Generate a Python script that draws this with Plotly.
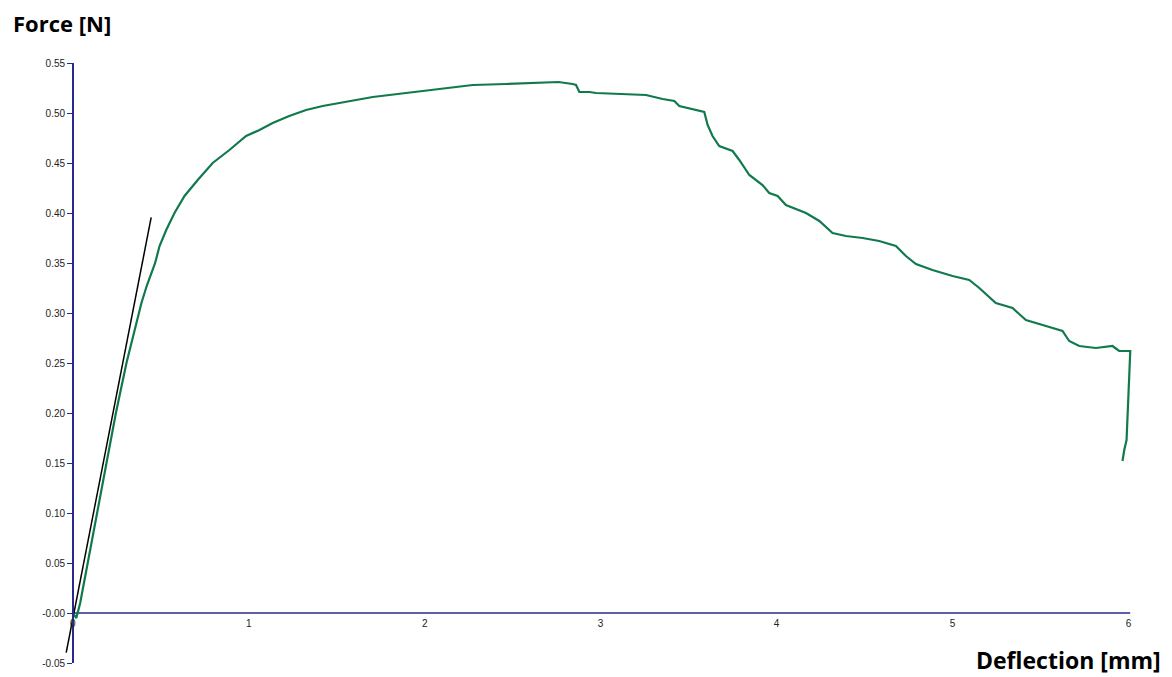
import plotly.graph_objects as go

# Force-deflection curve
deflection_mm = [0.000, 0.020, 0.042, 0.085, 0.136, 0.190, 0.245, 0.305, 0.360, 0.390,
                 0.420, 0.468, 0.493, 0.531, 0.578, 0.635, 0.710, 0.795, 0.890, 0.985,
                 1.061, 1.136, 1.230, 1.326, 1.420, 1.515, 1.610, 1.705, 1.894, 2.084,
                 2.273, 2.462, 2.652, 2.760, 2.841, 2.860, 2.879, 2.936, 2.974, 3.163,
                 3.258, 3.352, 3.419, 3.447, 3.542, 3.589, 3.608, 3.636, 3.674, 3.750,
                 3.788, 3.845, 3.920, 3.958, 4.006, 4.053, 4.167, 4.243, 4.318, 4.394,
                 4.489, 4.583, 4.678, 4.735, 4.792, 4.886, 5.000, 5.095, 5.152, 5.246,
                 5.341, 5.417, 5.531, 5.625, 5.663, 5.720, 5.815, 5.909, 5.947, 6.010,
                 6.005, 6.000, 5.989, 5.976, 5.966]
force_N = [0.000, -0.005, 0.010, 0.050, 0.100, 0.150, 0.200, 0.250, 0.290, 0.310,
           0.327, 0.350, 0.367, 0.383, 0.400, 0.417, 0.433, 0.450, 0.463, 0.477,
           0.483, 0.490, 0.497, 0.503, 0.507, 0.510, 0.513, 0.516, 0.520, 0.524,
           0.528, 0.529, 0.530, 0.531, 0.529, 0.528, 0.521, 0.521, 0.520, 0.519,
           0.518, 0.514, 0.512, 0.507, 0.503, 0.501, 0.488, 0.477, 0.467, 0.462,
           0.453, 0.438, 0.428, 0.420, 0.417, 0.408, 0.400, 0.392, 0.380, 0.377,
           0.375, 0.372, 0.367, 0.357, 0.349, 0.343, 0.337, 0.333, 0.325, 0.310,
           0.305, 0.293, 0.287, 0.282, 0.272, 0.267, 0.265, 0.267, 0.262, 0.262,
           0.240, 0.213, 0.173, 0.163, 0.152]

# Tangent (initial stiffness) line end points
tangent_x = [-0.0375, 0.4455]
tangent_y = [-0.0397, 0.3956]

# Tick labels
y_tick_vals = [-0.05, 0.00, 0.05, 0.10, 0.15, 0.20, 0.25, 0.30, 0.35, 0.40, 0.45, 0.50, 0.55]
y_tick_text = ["-0.05", "-0.00", "0.05", "0.10", "0.15", "0.20", "0.25", "0.30",
               "0.35", "0.40", "0.45", "0.50", "0.55"]
x_tick_vals = [0, 1, 2, 3, 4, 5, 6]
x_tick_text = ["0", "1", "2", "3", "4", "5", "6"]

AXIS_COLOR = "#2a2a8c"
X_MIN, X_MAX = -0.05, 6.02
Y_MIN, Y_MAX = -0.05, 0.55

# page has an 8px body margin; compensate so the plot lands where the reference has it
PAGE_OFF = 8
PLOT_L, PLOT_T, PLOT_W, PLOT_H = 64, 63, 1068, 600   # page pixels

fig = go.Figure()
fig.add_trace(go.Scatter(x=tangent_x, y=tangent_y, mode="lines",
                         line=dict(color="black", width=1.5), showlegend=False,
                         hoverinfo="skip"))
fig.add_trace(go.Scatter(x=deflection_mm, y=force_N, mode="lines",
                         line=dict(color="#107a4c", width=2.2), showlegend=False))

# x-axis line at y = 0 starting at the y-axis
fig.add_shape(type="line", x0=0, x1=6.01, y0=0, y1=0, xref="x", yref="y",
              line=dict(color=AXIS_COLOR, width=1.5), layer="below")

W, H = 1172 - PAGE_OFF, 677 - PAGE_OFF
ml, mt = PLOT_L - PAGE_OFF, PLOT_T - PAGE_OFF
fig.update_layout(
    width=W, height=H,
    margin=dict(l=ml, r=W - ml - PLOT_W, t=mt, b=H - mt - PLOT_H, autoexpand=False),
    paper_bgcolor="white", plot_bgcolor="white",
    font=dict(family="Liberation Sans, Arial, sans-serif", size=10, color="#222222"),
    xaxis=dict(range=[X_MIN, X_MAX], showgrid=False, zeroline=False, showline=False,
               automargin=False,
               tickmode="array", tickvals=x_tick_vals, ticktext=x_tick_text,
               ticks="outside", ticklen=1, tickcolor="rgba(0,0,0,0)",
               anchor="free", position=(0 - Y_MIN) / (Y_MAX - Y_MIN),
               tickfont=dict(size=10, color="#222222")),
    yaxis=dict(range=[Y_MIN, Y_MAX], showgrid=False, zeroline=False,
               automargin=False,
               showline=True, linecolor=AXIS_COLOR, linewidth=1.5,
               tickmode="array", tickvals=y_tick_vals, ticktext=y_tick_text,
               ticks="outside", ticklen=5, tickcolor=AXIS_COLOR, tickwidth=1,
               anchor="free", position=(0 - X_MIN) / (X_MAX - X_MIN),
               tickfont=dict(size=10, color="#222222")),
    annotations=[
        dict(text="<b>Force [N]</b>", xref="paper", yref="paper",
             x=(11 - PLOT_L) / PLOT_W, y=(PLOT_T + PLOT_H - 22.5) / PLOT_H,
             xanchor="left", yanchor="middle",
             showarrow=False, font=dict(family="Open Sans, sans-serif", size=22, color="black")),
        dict(text="<b>Deflection [mm]</b>", xref="paper", yref="paper",
             x=(1163 - PLOT_L) / PLOT_W, y=(PLOT_T + PLOT_H - 660) / PLOT_H,
             xanchor="right", yanchor="middle",
             showarrow=False, font=dict(family="Open Sans, sans-serif", size=23, color="black")),
    ],
)

fig.write_html("out.html")
